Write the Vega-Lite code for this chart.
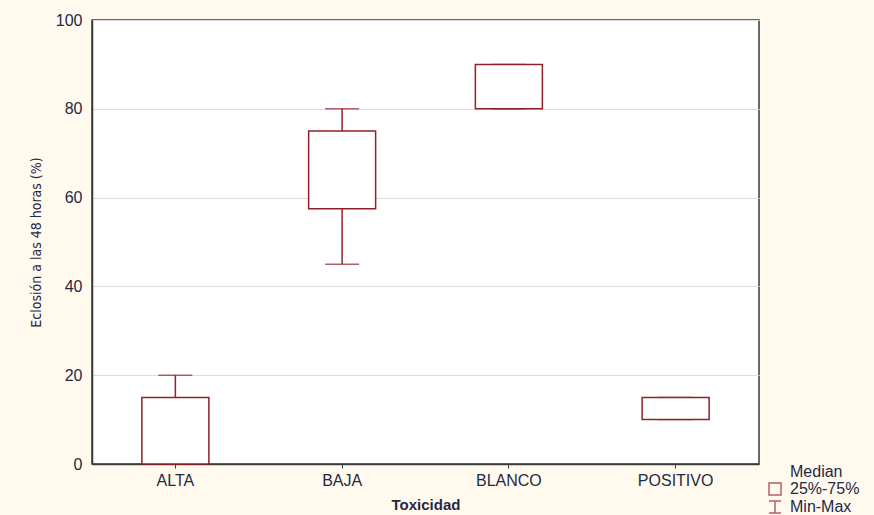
{
  "$schema": "https://vega.github.io/schema/vega-lite/v6.json",
  "autosize": "none",
  "width": 667,
  "height": 444,
  "padding": {"left": 92, "top": 20, "right": 115, "bottom": 51},
  "background": "#fff9ee",
  "config": {
    "view": {"fill": "white", "stroke": "#3a3a3a", "strokeWidth": 1.5},
    "font": "Liberation Sans",
    "axis": {
      "labelFont": "Liberation Sans",
      "labelFontSize": 16,
      "labelColor": "#1f2a44",
      "titleColor": "#1f2a44",
      "domainColor": "#3a3a3a",
      "domainWidth": 1.5,
      "tickColor": "#3a3a3a"
    }
  },
  "data": {
    "values": [
      {"Toxicidad": "ALTA", "min": 0, "q1": 0, "q3": 15, "max": 20},
      {"Toxicidad": "BAJA", "min": 45, "q1": 57.5, "q3": 75, "max": 80},
      {"Toxicidad": "BLANCO", "min": 80, "q1": 80, "q3": 90, "max": 90},
      {"Toxicidad": "POSITIVO", "min": 10, "q1": 10, "q3": 15, "max": 15}
    ]
  },
  "encoding": {
    "x": {
      "field": "Toxicidad",
      "type": "nominal",
      "sort": null,
      "scale": {"paddingInner": 0, "paddingOuter": 0},
      "axis": {
        "labelAngle": 0,
        "title": "Toxicidad",
        "titleFontSize": 15,
        "titleFontWeight": "bold",
        "titlePadding": 9,
        "tickSize": 4,
        "labelPadding": 4,
        "grid": false
      }
    }
  },
  "layer": [
    {
      "mark": {"type": "rule", "color": "#922028", "strokeWidth": 1.5},
      "encoding": {
        "y": {
          "field": "min",
          "type": "quantitative",
          "scale": {"domain": [0, 100], "nice": false},
          "axis": {
            "values": [0, 20, 40, 60, 80, 100],
            "title": "Eclosión a las 48 horas (%)",
            "titleFont": "DejaVu Sans Condensed, Liberation Sans",
            "titleFontSize": 14,
            "titleFontWeight": "normal",
            "titlePadding": 12,
            "gridColor": "#dcdcdc",
            "gridWidth": 1.2,
            "tickSize": 0,
            "labelPadding": 10
          }
        },
        "y2": {"field": "max"}
      }
    },
    {
      "mark": {"type": "tick", "color": "#922028", "thickness": 1.5, "size": 34, "orient": "horizontal"},
      "encoding": {"y": {"field": "min", "type": "quantitative"}}
    },
    {
      "mark": {"type": "tick", "color": "#922028", "thickness": 1.5, "size": 34, "orient": "horizontal"},
      "encoding": {"y": {"field": "max", "type": "quantitative"}}
    },
    {
      "mark": {"type": "bar", "fill": "white", "stroke": "#922028", "strokeWidth": 1.5, "width": 67},
      "encoding": {
        "y": {"field": "q1", "type": "quantitative"},
        "y2": {"field": "q3"}
      }
    },
    {
      "data": {"values": [{"leg": "Median"}, {"leg": "25%-75%"}, {"leg": "Min-Max"}]},
      "transform": [{"filter": "false"}],
      "mark": {"type": "point", "filled": false, "stroke": "#922028"},
      "encoding": {
        "x": {"value": 0},
        "y": {"value": 0},
        "shape": {
          "field": "leg",
          "type": "nominal",
          "scale": {
            "domain": ["Median", "25%-75%", "Min-Max"],
            "range": ["M0,0L0,0", "square", "M-1,-1H1M0,-1V1M-1,1H1"]
          },
          "legend": {
            "title": null,
            "orient": "none",
            "legendX": 675,
            "legendY": 444,
            "padding": 0,
            "symbolSize": 144,
            "symbolStrokeColor": "#922028",
            "symbolFillColor": "white",
            "symbolStrokeWidth": 1.5,
            "labelFont": "Liberation Sans",
            "labelFontSize": 16,
            "labelColor": "#1f2a44",
            "labelOffset": 7,
            "rowPadding": 0
          }
        }
      }
    }
  ]
}
